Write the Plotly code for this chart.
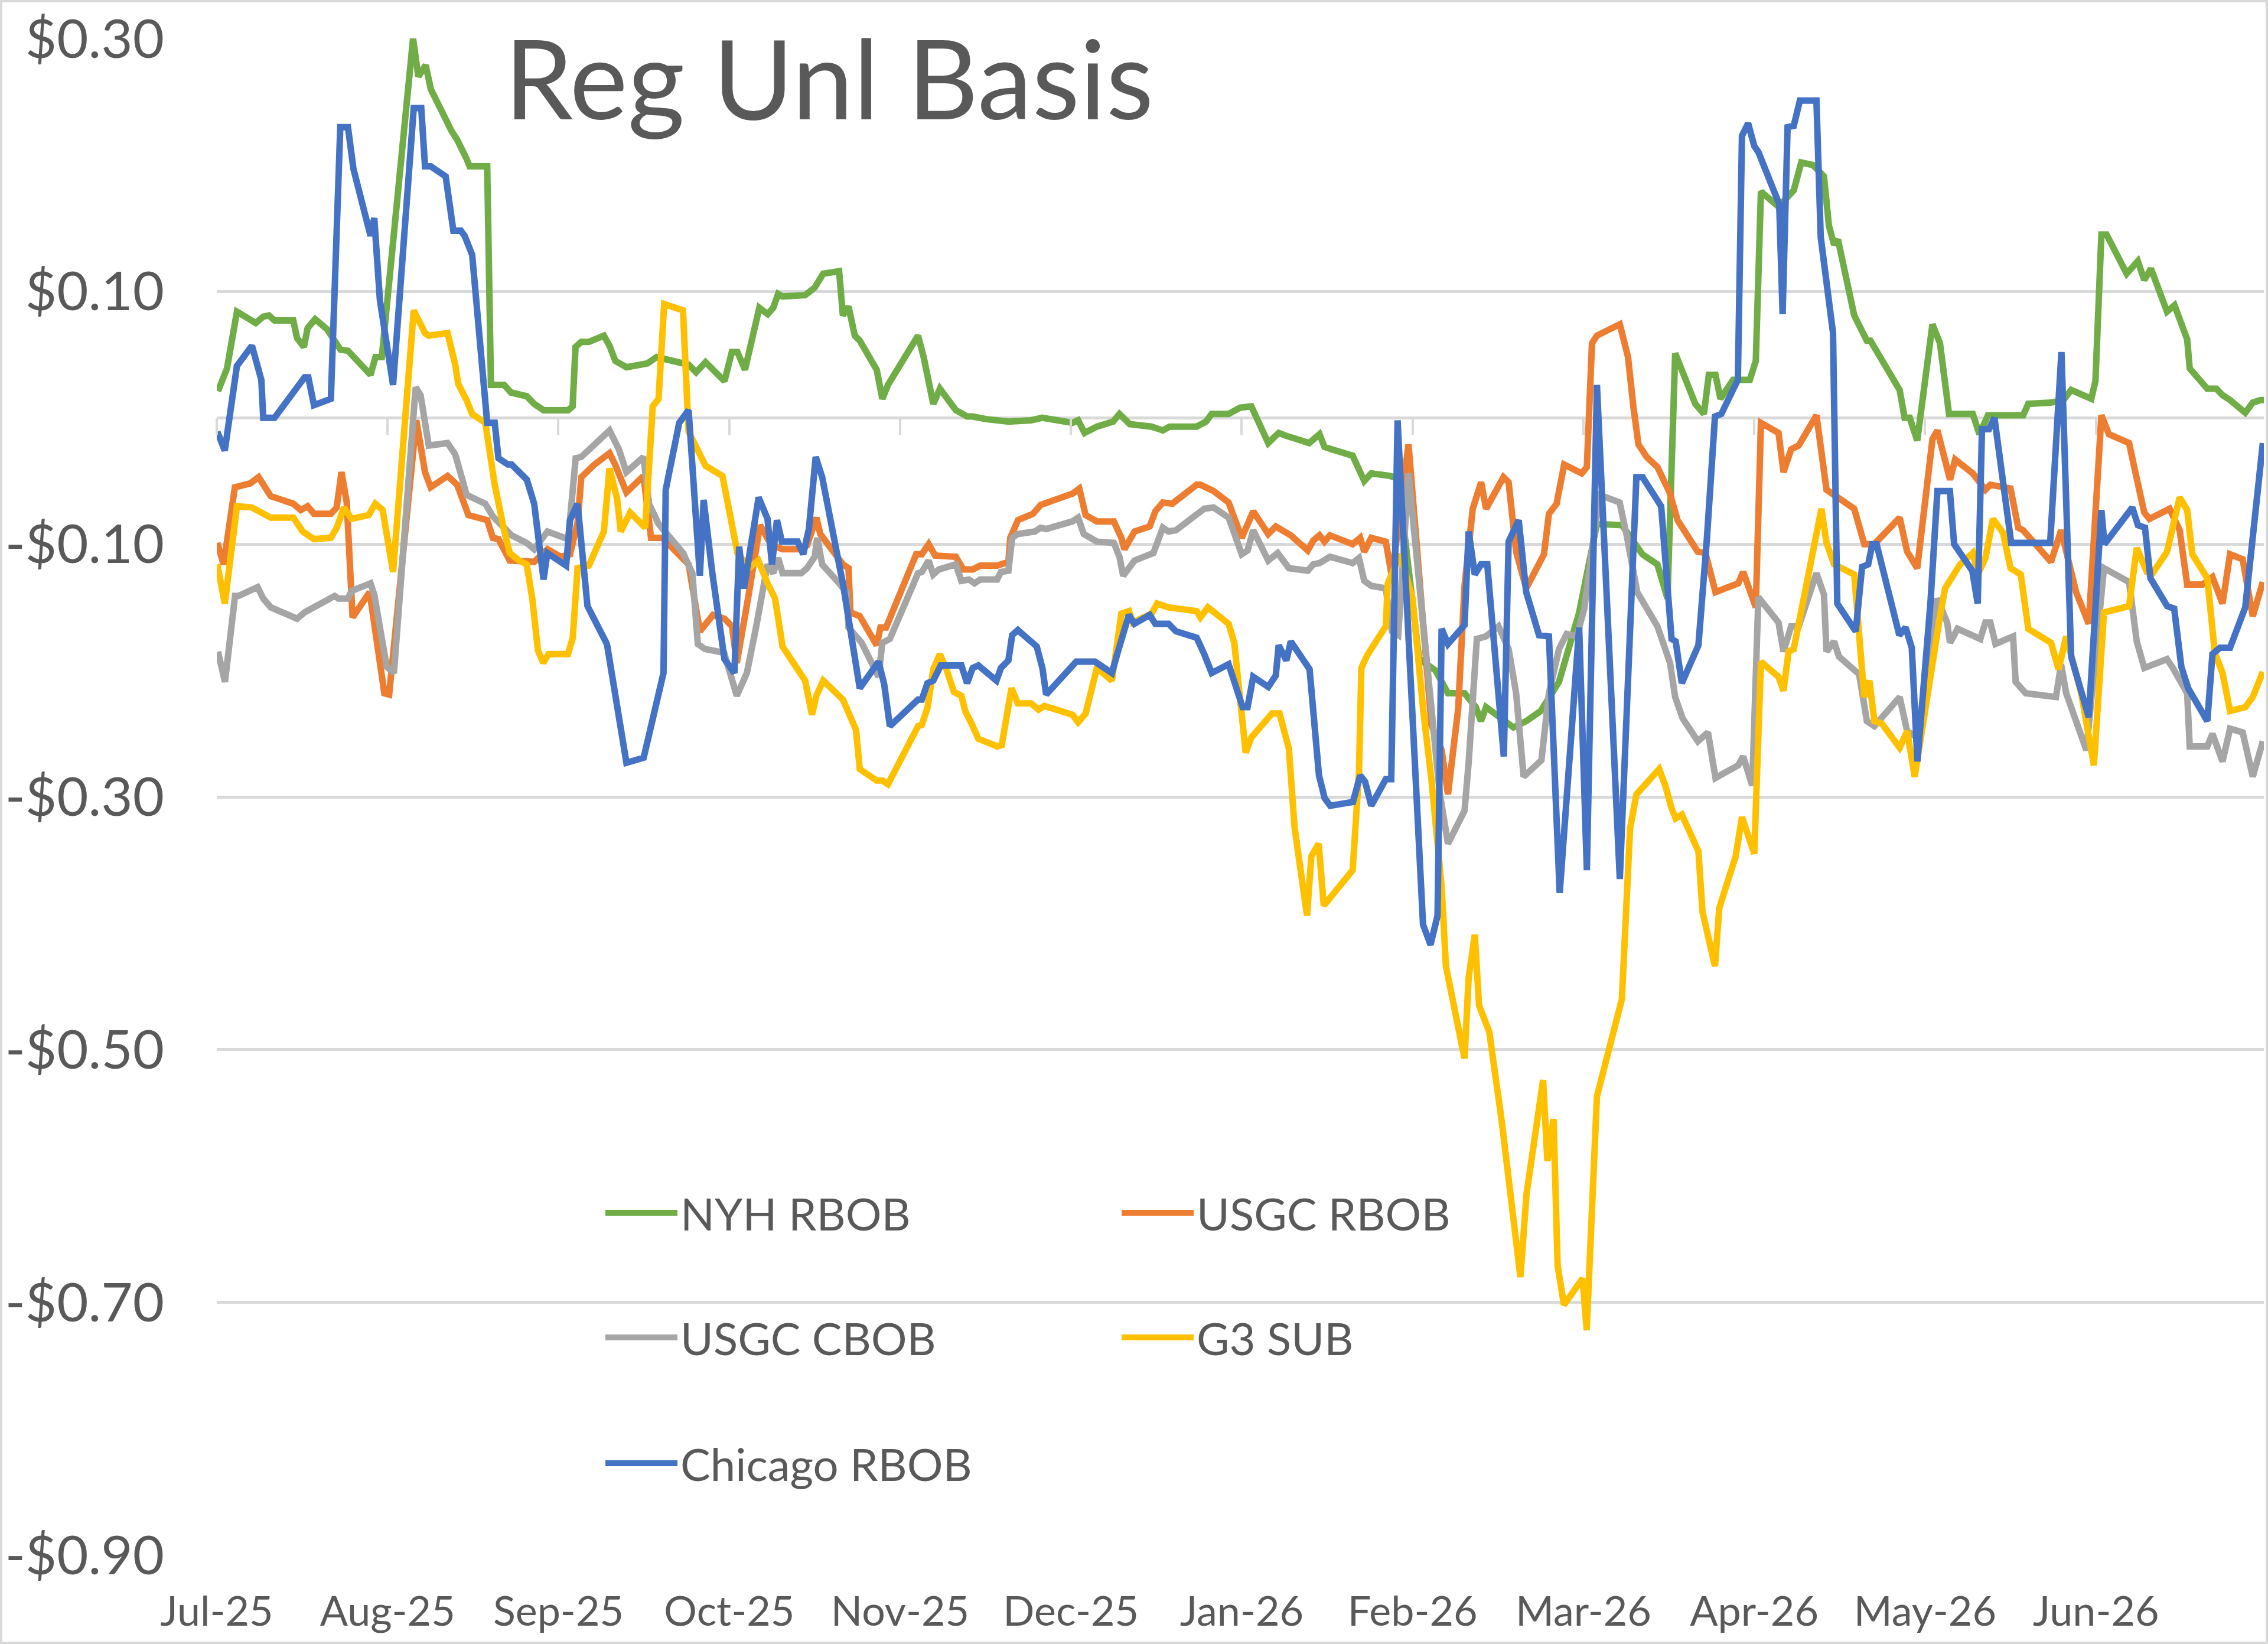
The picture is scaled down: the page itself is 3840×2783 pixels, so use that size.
import plotly.graph_objects as go

# ---------------- data ----------------
month_labels = ["Jul-25", "Aug-25", "Sep-25", "Oct-25", "Nov-25", "Dec-25",
                "Jan-26", "Feb-26", "Mar-26", "Apr-26", "May-26", "Jun-26"]
month_pos = list(range(12))
y_tick_vals = [0.30, 0.10, -0.10, -0.30, -0.50, -0.70, -0.90]
y_tick_text = ["$0.30", "$0.10", "-$0.10", "-$0.30", "-$0.50", "-$0.70", "-$0.90"]

# time position in months since Jul-25 (evenly spaced month axis)
nyh_t = [0.007, 0.06, 0.118, 0.228, 0.272, 0.305, 0.338, 0.448, 0.47, 0.51, 0.532, 0.576, 0.646, 0.724, 0.768,
         0.9, 0.929, 0.966, 1.149, 1.18, 1.223, 1.253, 1.374, 1.407, 1.462, 1.48, 1.583, 1.605, 1.682, 1.722,
         1.815, 1.858, 1.913, 2.056, 2.083, 2.1, 2.134, 2.178, 2.266, 2.299, 2.333, 2.398, 2.52, 2.575, 2.762,
         2.806, 2.861, 2.972, 3.015, 3.048, 3.092, 3.176, 3.225, 3.257, 3.286, 3.312, 3.444, 3.5, 3.55, 3.643,
         3.665, 3.698, 3.735, 3.764, 3.863, 3.896, 3.929, 4.105, 4.138, 4.194, 4.233, 4.326, 4.392, 4.425,
         4.502, 4.634, 4.767, 4.833, 5.009, 5.042, 5.08, 5.152, 5.247, 5.284, 5.344, 5.472, 5.538, 5.578,
         5.736, 5.791, 5.824, 5.923, 5.99, 6.056, 6.155, 6.216, 6.254, 6.298, 6.395, 6.455, 6.484, 6.528,
         6.649, 6.717, 6.758, 6.867, 6.915, 7.037, 7.061, 7.134, 7.207, 7.304, 7.37, 7.40, 7.43, 7.59, 7.665,
         7.75, 7.857, 7.975, 8.079, 8.226, 8.345, 8.433, 8.492, 8.537, 8.655, 8.705, 8.734, 8.773, 8.802,
         8.876, 8.974, 9.009, 9.039, 9.142, 9.231, 9.275, 9.343, 9.408, 9.437, 9.467, 9.49, 9.585, 9.659,
         9.68, 9.851, 9.88, 9.91, 9.954, 10.043, 10.087, 10.14, 10.279, 10.318, 10.368, 10.574, 10.604,
         10.737, 10.81, 10.855, 10.973, 10.997, 11.032, 11.062, 11.18, 11.245, 11.283, 11.322, 11.416,
         11.46, 11.534, 11.549, 11.652, 11.705, 11.74, 11.785, 11.874, 11.918, 11.963, 11.983]
nyh_v = [0.021, 0.039, 0.084, 0.075, 0.080, 0.081, 0.077, 0.077, 0.063, 0.056, 0.071, 0.078, 0.070, 0.054, 0.053,
         0.034, 0.048, 0.048, 0.300, 0.270, 0.279, 0.260, 0.227, 0.220, 0.205, 0.199, 0.199, 0.026, 0.026, 0.020,
         0.017, 0.011, 0.006, 0.006, 0.009, 0.056, 0.060, 0.060, 0.065, 0.057, 0.045, 0.040, 0.043, 0.048, 0.042,
         0.036, 0.044, 0.029, 0.052, 0.052, 0.038, 0.087, 0.082, 0.087, 0.098, 0.096, 0.097, 0.103, 0.114, 0.116,
         0.081, 0.088, 0.065, 0.061, 0.038, 0.015, 0.026, 0.065, 0.048, 0.011, 0.023, 0.006, 0.001, 0.001,
         -0.001, -0.003, -0.002, 0.000, -0.004, -0.002, -0.012, -0.007, -0.003, 0.003, -0.005, -0.007, -0.010, -0.007,
         -0.007, -0.003, 0.003, 0.003, 0.008, 0.009, -0.020, -0.012, -0.014, -0.016, -0.020, -0.013, -0.023, -0.025,
         -0.030, -0.050, -0.044, -0.046, -0.048, -0.190, -0.193, -0.200, -0.218, -0.218, -0.229, -0.240, -0.229, -0.245, -0.240,
         -0.232, -0.209, -0.154, -0.084, -0.085, -0.108, -0.116, -0.143, 0.051, 0.011, 0.003, 0.034, 0.034, 0.015,
         0.030, 0.030, 0.045, 0.179, 0.167, 0.180, 0.202, 0.200, 0.191, 0.152, 0.137, 0.141, 0.081, 0.061,
         0.061, 0.022, 0.000, 0.000, -0.018, 0.074, 0.059, 0.003, 0.003, -0.013, 0.002, 0.002, 0.011,
         0.012, 0.014, 0.022, 0.015, 0.029, 0.145, 0.145, 0.114, 0.124, 0.109, 0.118, 0.084,
         0.089, 0.062, 0.039, 0.023, 0.023, 0.018, 0.014, 0.004, 0.012, 0.014, 0.014]

usgc_rbob_t = [0.003, 0.04, 0.106, 0.195, 0.245, 0.283, 0.316, 0.36, 0.448, 0.492, 0.532, 0.569, 0.668, 0.702, 0.73,
               0.761, 0.795, 0.895, 0.981, 1.009, 1.168, 1.219, 1.252, 1.351, 1.407, 1.473, 1.583, 1.616, 1.649,
               1.715, 1.858, 1.936, 2.013, 2.068, 2.112, 2.134, 2.211, 2.299, 2.332, 2.398, 2.498, 2.542, 2.608,
               2.762, 2.828, 2.905, 2.972, 3.016, 3.044, 3.116, 3.18, 3.247, 3.313, 3.422, 3.455, 3.51, 3.533,
               3.665, 3.698, 3.709, 3.764, 3.863, 3.885, 3.918, 4.094, 4.127, 4.167, 4.205, 4.326, 4.37, 4.425,
               4.469, 4.568, 4.634, 4.645, 4.69, 4.778, 4.822, 5.009, 5.049, 5.086, 5.152, 5.251, 5.295, 5.313,
               5.372, 5.461, 5.494, 5.538, 5.593, 5.736, 5.758, 5.835, 5.923, 6.0, 6.067, 6.155, 6.199, 6.243,
               6.287, 6.386, 6.419, 6.455, 6.484, 6.516, 6.649, 6.693, 6.717, 6.758, 6.843, 6.879, 6.976, 7.11,
               7.17, 7.207, 7.267, 7.304, 7.352, 7.401, 7.43, 7.532, 7.562, 7.606, 7.665, 7.769, 7.798, 7.843,
               7.887, 7.99, 8.02, 8.05, 8.079, 8.213, 8.261, 8.293, 8.322, 8.37, 8.433, 8.504, 8.551, 8.669,
               8.714, 8.773, 8.906, 8.935, 9.009, 9.039, 9.142, 9.171, 9.216, 9.26, 9.364, 9.423, 9.585, 9.644,
               9.703, 9.851, 9.895, 9.954, 10.043, 10.072, 10.146, 10.176, 10.279, 10.353, 10.382, 10.5, 10.545,
               10.574, 10.737, 10.796, 10.884, 10.958, 11.032, 11.076, 11.194, 11.224, 11.283, 11.313, 11.431,
               11.49, 11.534, 11.623, 11.682, 11.741, 11.785, 11.859, 11.918, 11.977]
usgc_rbob_v = [-0.099, -0.116, -0.055, -0.052, -0.047, -0.055, -0.062, -0.064, -0.068, -0.073, -0.070, -0.076, -0.076, -0.071, -0.043,
               -0.067, -0.158, -0.138, -0.218, -0.219, -0.002, -0.043, -0.055, -0.046, -0.053, -0.077, -0.081, -0.095, -0.096,
               -0.113, -0.114, -0.104, -0.110, -0.108, -0.083, -0.047, -0.037, -0.028, -0.037, -0.059, -0.046, -0.095, -0.095,
               -0.116, -0.169, -0.156, -0.159, -0.165, -0.194, -0.138, -0.085, -0.101, -0.104, -0.104, -0.101, -0.079, -0.092,
               -0.116, -0.119, -0.154, -0.157, -0.180, -0.166, -0.166, -0.108, -0.108, -0.100, -0.109, -0.110, -0.120, -0.120,
               -0.117, -0.117, -0.114, -0.095, -0.081, -0.076, -0.069, -0.060, -0.056, -0.077, -0.082, -0.082, -0.095, -0.104,
               -0.090, -0.086, -0.074, -0.067, -0.068, -0.053, -0.053, -0.058, -0.067, -0.095, -0.074, -0.092, -0.086, -0.089,
               -0.093, -0.105, -0.097, -0.093, -0.098, -0.093, -0.100, -0.095, -0.106, -0.095, -0.098, -0.126, -0.021, -0.243,
               -0.263, -0.298, -0.230, -0.133, -0.072, -0.051, -0.072, -0.047, -0.051, -0.106, -0.135, -0.108, -0.076, -0.068,
               -0.037, -0.044, -0.039, 0.059, 0.065, 0.074, 0.048, 0.008, -0.021, -0.031, -0.039, -0.059, -0.081, -0.106,
               -0.107, -0.138, -0.131, -0.122, -0.150, -0.004, -0.012, -0.043, -0.025, -0.022, 0.002, -0.057, -0.072, -0.100,
               -0.100, -0.079, -0.106, -0.119, -0.017, -0.010, -0.049, -0.033, -0.044, -0.057, -0.053, -0.056, -0.087,
               -0.089, -0.114, -0.089, -0.138, -0.163, 0.002, -0.013, -0.020, -0.039, -0.075, -0.080, -0.072,
               -0.089, -0.132, -0.132, -0.126, -0.147, -0.108, -0.112, -0.157, -0.130]

usgc_cbob_t = [0.007, 0.048, 0.107, 0.128, 0.239, 0.272, 0.316, 0.47, 0.514, 0.69, 0.712, 0.768, 0.789, 0.9, 0.922,
               0.953, 0.995, 1.037, 1.164, 1.193, 1.241, 1.351, 1.396, 1.44, 1.462, 1.572, 1.616, 1.726, 1.814,
               1.858, 1.936, 2.057, 2.101, 2.134, 2.299, 2.354, 2.398, 2.498, 2.53, 2.586, 2.73, 2.784, 2.816,
               2.858, 2.97, 3.044, 3.103, 3.158, 3.224, 3.257, 3.286, 3.312, 3.422, 3.455, 3.5, 3.515, 3.544,
               3.643, 3.687, 3.698, 3.731, 3.775, 3.874, 3.896, 3.94, 4.105, 4.127, 4.167, 4.194, 4.227, 4.326,
               4.359, 4.403, 4.436, 4.469, 4.568, 4.59, 4.634, 4.656, 4.689, 4.789, 4.822, 4.855, 5.009, 5.042,
               5.075, 5.152, 5.251, 5.284, 5.306, 5.372, 5.483, 5.538, 5.571, 5.615, 5.736, 5.78, 5.835, 5.923,
               6.0, 6.034, 6.067, 6.155, 6.21, 6.276, 6.386, 6.419, 6.455, 6.516, 6.649, 6.686, 6.717, 6.758,
               6.843, 6.879, 6.916, 6.976, 7.158, 7.207, 7.304, 7.328, 7.376, 7.429, 7.503, 7.562, 7.606, 7.65,
               7.754, 7.798, 7.857, 7.902, 7.961, 8.005, 8.094, 8.212, 8.256, 8.315, 8.433, 8.507, 8.537, 8.581,
               8.67, 8.729, 8.773, 8.906, 8.935, 8.988, 9.024, 9.142, 9.171, 9.216, 9.26, 9.364, 9.408, 9.423,
               9.467, 9.496, 9.614, 9.659, 9.703, 9.851, 9.895, 9.954, 10.072, 10.129, 10.146, 10.19, 10.323,
               10.353, 10.382, 10.412, 10.515, 10.53, 10.589, 10.766, 10.796, 10.826, 10.944, 11.047, 11.194,
               11.239, 11.283, 11.416, 11.446, 11.534, 11.549, 11.652, 11.682, 11.741, 11.785, 11.859, 11.918,
               11.977]
usgc_cbob_v = [-0.185, -0.209, -0.141, -0.141, -0.134, -0.143, -0.150, -0.159, -0.154, -0.141, -0.143, -0.143, -0.137, -0.131, -0.140,
               -0.162, -0.197, -0.202, 0.024, 0.018, -0.022, -0.020, -0.029, -0.050, -0.061, -0.068, -0.078, -0.093, -0.099,
               -0.104, -0.090, -0.096, -0.032, -0.031, -0.010, -0.025, -0.043, -0.031, -0.068, -0.084, -0.107, -0.123, -0.179,
               -0.183, -0.186, -0.220, -0.202, -0.165, -0.116, -0.123, -0.111, -0.123, -0.123, -0.119, -0.110, -0.095, -0.116,
               -0.131, -0.138, -0.166, -0.172, -0.178, -0.205, -0.178, -0.175, -0.123, -0.122, -0.113, -0.124, -0.120, -0.116,
               -0.129, -0.128, -0.131, -0.128, -0.128, -0.122, -0.121, -0.095, -0.092, -0.090, -0.087, -0.088, -0.082, -0.079,
               -0.092, -0.098, -0.099, -0.110, -0.125, -0.113, -0.107, -0.087, -0.090, -0.089, -0.076, -0.072, -0.071, -0.079,
               -0.108, -0.105, -0.089, -0.113, -0.107, -0.119, -0.121, -0.116, -0.115, -0.110, -0.115, -0.111, -0.129, -0.133,
               -0.135, -0.169, -0.172, -0.044, -0.296, -0.337, -0.311, -0.273, -0.175, -0.173, -0.165, -0.183, -0.218, -0.284,
               -0.271, -0.218, -0.183, -0.171, -0.173, -0.151, -0.061, -0.067, -0.095, -0.138, -0.165, -0.194, -0.221, -0.238,
               -0.256, -0.249, -0.285, -0.275, -0.268, -0.291, -0.142, -0.162, -0.185, -0.165, -0.165, -0.123, -0.140, -0.185,
               -0.177, -0.189, -0.203, -0.240, -0.244, -0.221, -0.248, -0.253, -0.143, -0.162, -0.178, -0.167, -0.175,
               -0.162, -0.162, -0.179, -0.173, -0.209, -0.218, -0.221, -0.195, -0.218, -0.263, -0.119, -0.130,
               -0.177, -0.198, -0.191, -0.197, -0.218, -0.260, -0.260, -0.250, -0.272, -0.246, -0.249, -0.284,
               -0.256]

g3_sub_t = [0.003, 0.047, 0.118, 0.206, 0.316, 0.448, 0.503, 0.569, 0.668, 0.702, 0.745, 0.789, 0.889, 0.928, 0.971,
            1.032, 1.153, 1.219, 1.241, 1.351, 1.396, 1.413, 1.462, 1.495, 1.572, 1.627, 1.682, 1.715, 1.77,
            1.814, 1.847, 1.88, 1.911, 1.942, 2.056, 2.084, 2.112, 2.178, 2.266, 2.299, 2.343, 2.365, 2.42,
            2.508, 2.552, 2.586, 2.619, 2.729, 2.762, 2.828, 2.861, 2.96, 3.004, 3.048, 3.114, 3.17, 3.224,
            3.268, 3.312, 3.444, 3.484, 3.51, 3.55, 3.643, 3.665, 3.742, 3.764, 3.863, 3.896, 3.929, 4.105,
            4.127, 4.161, 4.194, 4.233, 4.271, 4.315, 4.359, 4.381, 4.425, 4.458, 4.568, 4.595, 4.652, 4.689,
            4.767, 4.811, 4.844, 5.009, 5.042, 5.086, 5.152, 5.24, 5.295, 5.34, 5.362, 5.472, 5.505, 5.571,
            5.736, 5.758, 5.802, 5.923, 5.956, 6.023, 6.056, 6.144, 6.177, 6.221, 6.276, 6.309, 6.382, 6.407,
            6.45, 6.48, 6.649, 6.686, 6.70, 6.734, 6.843, 6.855, 6.928, 7.0, 7.061, 7.11, 7.17, 7.195, 7.304,
            7.328, 7.364, 7.389, 7.449, 7.522, 7.631, 7.667, 7.728, 7.764, 7.789, 7.825, 7.849, 7.886, 7.995,
            8.019, 8.079, 8.225, 8.273, 8.31, 8.443, 8.479, 8.516, 8.54, 8.576, 8.673, 8.697, 8.722, 8.77,
            8.795, 8.891, 8.928, 8.952, 9.0, 9.039, 9.142, 9.171, 9.201, 9.231, 9.319, 9.393, 9.423, 9.467,
            9.585, 9.614, 9.644, 9.674, 9.703, 9.747, 9.851, 9.895, 9.939, 10.087, 10.117, 10.205, 10.279,
            10.309, 10.353, 10.397, 10.456, 10.5, 10.56, 10.604, 10.737, 10.781, 10.826, 10.914, 10.988,
            11.047, 11.194, 11.239, 11.298, 11.327, 11.416, 11.49, 11.534, 11.564, 11.652, 11.696, 11.741,
            11.785, 11.874, 11.918, 11.977]
g3_sub_v = [-0.116, -0.147, -0.070, -0.071, -0.079, -0.079, -0.090, -0.096, -0.095, -0.087, -0.071, -0.080, -0.077, -0.068, -0.073,
            -0.122, 0.085, 0.067, 0.065, 0.067, 0.042, 0.027, 0.014, 0.003, -0.004, -0.053, -0.089, -0.107, -0.113,
            -0.116, -0.143, -0.184, -0.194, -0.187, -0.187, -0.174, -0.119, -0.117, -0.090, -0.040, -0.064, -0.090, -0.075,
            -0.087, 0.009, 0.015, 0.090, 0.085, -0.011, -0.028, -0.038, -0.046, -0.074, -0.107, -0.119, -0.113, -0.131,
            -0.143, -0.181, -0.208, -0.235, -0.220, -0.208, -0.219, -0.223, -0.247, -0.278, -0.287, -0.287, -0.290, -0.244,
            -0.243, -0.229, -0.199, -0.187, -0.199, -0.217, -0.220, -0.232, -0.244, -0.254, -0.260, -0.259, -0.214, -0.226,
            -0.226, -0.231, -0.228, -0.235, -0.241, -0.234, -0.198, -0.208, -0.155, -0.153, -0.162, -0.155, -0.147, -0.150,
            -0.153, -0.158, -0.150, -0.163, -0.178, -0.265, -0.253, -0.238, -0.234, -0.234, -0.262, -0.324, -0.394, -0.347,
            -0.337, -0.386, -0.358, -0.281, -0.198, -0.188, -0.165, -0.131, -0.108, -0.143, -0.230, -0.286, -0.371, -0.434, -0.507,
            -0.443, -0.409, -0.465, -0.486, -0.557, -0.680, -0.614, -0.558, -0.524, -0.588, -0.555, -0.671, -0.702, -0.681,
            -0.722, -0.537, -0.460, -0.325, -0.298, -0.278, -0.291, -0.309, -0.317, -0.314, -0.343, -0.391, -0.404, -0.434,
            -0.388, -0.347, -0.316, -0.325, -0.345, -0.193, -0.205, -0.216, -0.185, -0.183, -0.124, -0.072, -0.099, -0.116,
            -0.124, -0.178, -0.221, -0.208, -0.240, -0.242, -0.261, -0.248, -0.284, -0.157, -0.135, -0.116, -0.107,
            -0.124, -0.111, -0.080, -0.091, -0.119, -0.124, -0.167, -0.178, -0.199, -0.173, -0.218, -0.275,
            -0.154, -0.149, -0.103, -0.122, -0.124, -0.106, -0.063, -0.073, -0.108, -0.127, -0.186, -0.202,
            -0.232, -0.229, -0.221, -0.201]

chicago_t = [0.003, 0.047, 0.118, 0.206, 0.261, 0.272, 0.338, 0.448, 0.47, 0.514, 0.536, 0.569, 0.668, 0.723, 0.768,
             0.8, 0.9, 0.922, 0.955, 1.032, 1.153, 1.197, 1.219, 1.252, 1.34, 1.385, 1.429, 1.451, 1.495, 1.583,
             1.627, 1.649, 1.704, 1.726, 1.815, 1.858, 1.913, 1.935, 2.045, 2.068, 2.112, 2.17, 2.284, 2.328,
             2.398, 2.499, 2.543, 2.615, 2.628, 2.707, 2.762, 2.828, 2.85, 2.9, 2.972, 3.03, 3.058, 3.086, 3.172,
             3.224, 3.25, 3.279, 3.308, 3.4, 3.433, 3.466, 3.506, 3.544, 3.643, 3.665, 3.764, 3.874, 3.907, 3.94,
             4.105, 4.127, 4.16, 4.194, 4.238, 4.359, 4.392, 4.425, 4.458, 4.564, 4.59, 4.634, 4.656, 4.689, 4.8,
             4.833, 4.855, 5.031, 5.141, 5.24, 5.273, 5.306, 5.339, 5.372, 5.461, 5.494, 5.571, 5.615, 5.736,
             5.78, 5.824, 5.923, 5.956, 6.005, 6.034, 6.067, 6.155, 6.199, 6.216, 6.261, 6.287, 6.397, 6.452,
             6.485, 6.518, 6.651, 6.693, 6.722, 6.758, 6.843, 6.875, 6.912, 7.061, 7.105, 7.146, 7.17, 7.207,
             7.304, 7.328, 7.364, 7.401, 7.437, 7.534, 7.562, 7.621, 7.665, 7.74, 7.798, 7.861, 7.975, 8.02,
             8.079, 8.213, 8.256, 8.31, 8.346, 8.455, 8.516, 8.54, 8.576, 8.673, 8.722, 8.77, 8.807, 8.904,
             8.928, 8.964, 9.0, 9.025, 9.146, 9.166, 9.195, 9.231, 9.267, 9.364, 9.389, 9.461, 9.486, 9.594,
             9.631, 9.667, 9.691, 9.716, 9.849, 9.886, 9.922, 9.955, 10.031, 10.072, 10.145, 10.17, 10.276,
             10.308, 10.333, 10.374, 10.406, 10.504, 10.732, 10.798, 10.855, 10.958, 11.032, 11.05, 11.213,
             11.246, 11.287, 11.319, 11.417, 11.458, 11.5, 11.54, 11.652, 11.682, 11.726, 11.785, 11.874, 11.977]
chicago_v = [-0.011, -0.026, 0.041, 0.057, 0.030, 0.000, 0.000, 0.021, 0.023, 0.032, 0.032, 0.010, 0.015, 0.230, 0.230,
             0.197, 0.144, 0.158, 0.093, 0.026, 0.245, 0.245, 0.199, 0.199, 0.191, 0.148, 0.148, 0.144, 0.129, -0.004,
             -0.004, -0.032, -0.037, -0.037, -0.049, -0.068, -0.128, -0.107, -0.117, -0.081, -0.068, -0.149, -0.179, -0.218,
             -0.273, -0.269, -0.245, -0.202, -0.057, -0.004, 0.006, -0.125, -0.065, -0.122, -0.191, -0.202, -0.102, -0.135, -0.063,
             -0.080, -0.116, -0.081, -0.098, -0.098, -0.108, -0.088, -0.031, -0.047, -0.116, -0.131, -0.214, -0.193, -0.211, -0.244,
             -0.223, -0.223, -0.210, -0.208, -0.196, -0.196, -0.210, -0.198, -0.196, -0.208, -0.198, -0.192, -0.172, -0.168, -0.181,
             -0.198, -0.219, -0.193, -0.193, -0.202, -0.186, -0.172, -0.156, -0.163, -0.156, -0.163, -0.163, -0.169, -0.174,
             -0.187, -0.202, -0.195, -0.208, -0.229, -0.229, -0.205, -0.213, -0.204, -0.180, -0.192, -0.177, -0.199, -0.283,
             -0.301, -0.307, -0.304, -0.283, -0.288, -0.307, -0.286, -0.286, -0.002, -0.401, -0.417, -0.394, -0.167, -0.179,
             -0.164, -0.090, -0.124, -0.116, -0.116, -0.268, -0.098, -0.081, -0.138, -0.172, -0.173, -0.376, -0.166, -0.358,
             0.026, -0.365, -0.214, -0.047, -0.047, -0.070, -0.175, -0.177, -0.210, -0.180, -0.097, 0.001, 0.003, 0.030,
             0.223, 0.233, 0.215, 0.210, 0.169, 0.082, 0.230, 0.231, 0.251, 0.251, 0.143, 0.067, -0.147, -0.169,
             -0.118, -0.116, -0.100, -0.100, -0.172, -0.166, -0.182, -0.272, -0.147, -0.058, -0.058, -0.100, -0.121,
             -0.147, -0.009, -0.009, 0.000, -0.099, -0.099, 0.052, -0.189, -0.237, -0.073, -0.100, -0.071,
             -0.085, -0.087, -0.127, -0.149, -0.151, -0.197, -0.214, -0.240, -0.187, -0.182, -0.182, -0.150, -0.020]

series_names = ["NYH RBOB", "USGC RBOB", "USGC CBOB", "G3 SUB", "Chicago RBOB"]
series_colors = ["#70AD47", "#ED7D31", "#A5A5A5", "#FFC000", "#4472C4"]

# ---------------- figure ----------------
W, H = 3840, 2783
ML, MR, MT, MB = 367, 7, 65, 150
PW, PH = W - ML - MR, H - MT - MB
FONT = "Lato"
TXT = "#595959"
GRID = "#D9D9D9"


def px_x(X):
    return (X - ML) / PW


def px_y(Y):
    return (H - MB - Y) / PH


fig = go.Figure()
data = [(nyh_t, nyh_v), (usgc_rbob_t, usgc_rbob_v), (usgc_cbob_t, usgc_cbob_v),
        (g3_sub_t, g3_sub_v), (chicago_t, chicago_v)]
legend_ids = ["legend", "legend2", "legend3", "legend4", "legend5"]
for (t, v), name, col, lg in zip(data, series_names, series_colors, legend_ids):
    fig.add_trace(go.Scatter(x=t, y=v, mode="lines", name=name, legend=lg,
                             line=dict(color=col, width=11), hoverinfo="skip"))

# helper (invisible) trace so the tick-mark axis at zero is rendered
fig.add_trace(go.Scatter(x=[month_pos[0]], y=[0], xaxis="x2", mode="markers",
                         marker=dict(opacity=0), showlegend=False, hoverinfo="skip"))

x_range = [0, max(nyh_t)]
fig.update_layout(
    width=W, height=H, autosize=False,
    margin=dict(l=ML, r=MR, t=MT, b=MB, pad=0),
    paper_bgcolor="white", plot_bgcolor="white",
    font=dict(family=FONT, color=TXT),
    xaxis=dict(range=x_range, tickvals=month_pos, ticktext=month_labels, showgrid=False,
               zeroline=False, showline=False, ticks="", tickfont=dict(family=FONT, size=70, color=TXT),
               ticklabelstandoff=48),
    xaxis2=dict(range=x_range, overlaying="x", anchor="free", position=0.75, side="bottom",
                tickvals=month_pos, ticks="outside", ticklen=28, tickwidth=4, tickcolor=GRID,
                showticklabels=False, showgrid=False, zeroline=False, showline=False),
    yaxis=dict(range=[-0.9002, 0.3002], tickvals=y_tick_vals, ticktext=y_tick_text,
               showgrid=True, gridcolor=GRID, gridwidth=5,
               zeroline=True, zerolinecolor=GRID, zerolinewidth=5, showline=False, ticks="",
               tickfont=dict(family=FONT, size=92, color=TXT), ticklabelstandoff=88),
    hovermode=False,
)

# legends: two columns, three rows, inside the plot
col_x = [1020, 1894]
row_y = [2053, 2264, 2477]
leg_pos = [(col_x[0], row_y[0]), (col_x[1], row_y[0]), (col_x[0], row_y[1]),
           (col_x[1], row_y[1]), (col_x[0], row_y[2])]
for lg, (X, Y) in zip(legend_ids, leg_pos):
    fig.update_layout({lg: dict(x=px_x(X), y=px_y(Y), xanchor="left", yanchor="middle",
                                bgcolor="rgba(0,0,0,0)", itemwidth=122,
                                font=dict(family=FONT, size=76, color=TXT))})

# title
fig.add_annotation(text="Reg Unl Basis", xref="paper", yref="paper", x=px_x(852), y=px_y(130),
                   xanchor="left", yanchor="middle", showarrow=False,
                   font=dict(family=FONT, size=186, color=TXT))

# chart-area border
fig.add_shape(type="rect", xref="paper", yref="paper",
              x0=px_x(2), x1=px_x(W - 2), y0=px_y(H - 2), y1=px_y(2),
              line=dict(color=GRID, width=4), fillcolor="rgba(0,0,0,0)", layer="below")

fig.write_html("out.html")
